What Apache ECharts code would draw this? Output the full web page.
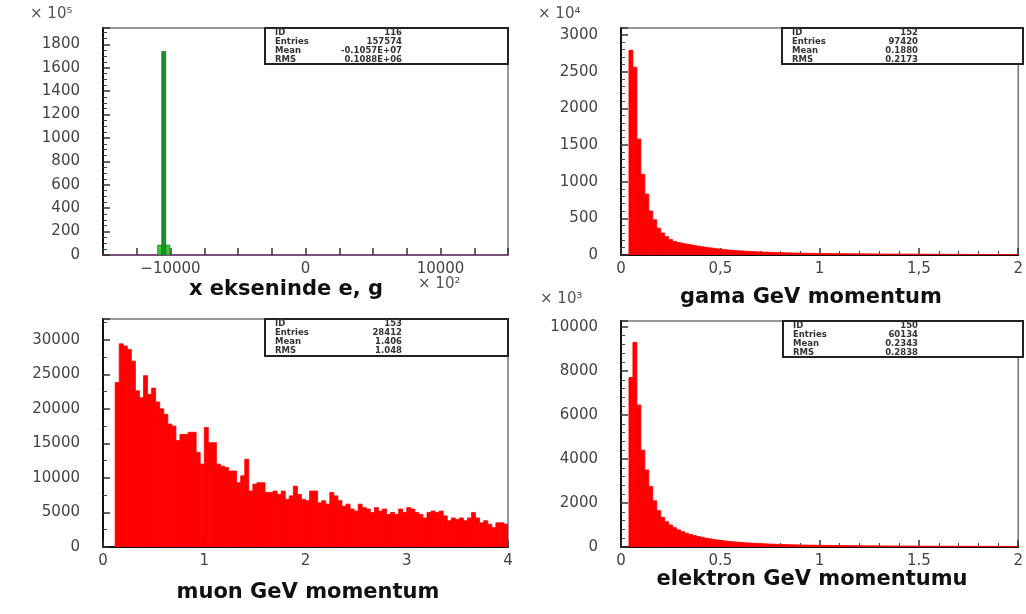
<!DOCTYPE html>
<html>
<head>
<meta charset="utf-8">
<script src="https://cdn.jsdelivr.net/npm/echarts@6/dist/echarts.min.js"></script>
<style>
  html, body { margin: 0; padding: 0; background: #fff; }
  #chart { width: 1026px; height: 614px; }
</style>
</head>
<body>
<div id="chart"></div>
<script>
// x ekseninde e, g  (x 10^2 on x, x 10^5 on y)
const xStart = -10950
const xBin = 300
const xCounts = [85, 1740, 85]
const xColors = ['#33cc33', '#1f8f2a', '#33cc33']

// gama GeV momentum (x 10^4)
const gamaStart = 0.04
const gamaBin = 0.02
const gamaCounts = [
  2790, 2560, 1580, 1100, 830, 600, 480, 365, 300, 250,
  210, 185, 170, 160, 150, 140, 130, 120, 112, 104,
  97, 90, 83, 77, 72, 67, 62, 58, 55, 52,
  48, 46, 43, 41, 39, 37, 35, 33, 31, 30,
  29, 27, 26, 25, 24, 23, 22, 21,
  21, 20, 20, 19, 19, 18, 18, 17, 17, 16,
  16, 16, 15, 15, 14, 14, 14, 13, 13, 13,
  12, 12, 12, 12, 11, 11, 11, 11, 10, 10,
  10, 10, 9, 9, 9, 9, 9, 8, 8, 8,
  8, 8, 7, 7, 7, 7, 7, 7, 6, 6
]

// muon GeV momentum
const muonStart = 0.12
const muonBin = 0.04
const muonCounts = [
  23800, 29400, 29100, 28600, 26900, 22600, 21600, 24800, 22100, 23000,
  21000, 20000, 19200, 17800, 17500, 15400, 16300, 16300, 16600, 16600,
  13700, 12000, 17300, 15100, 15100, 12000, 11700, 11500, 11000, 11000,
  9300, 10300, 12700, 8100, 9100, 9300, 9300, 7900, 7900, 8100,
  7600, 8100, 6900, 7400, 8800, 7600, 6900, 6700, 8100, 8100,
  6400, 6700, 6200, 7900, 7400, 6700, 5900, 6200, 5500, 5200,
  6200, 5700, 5500, 5000, 5700, 5200, 5500, 4700, 5000, 4700,
  5500, 5000, 5700, 5500, 5000, 4700, 4200, 5000, 5200, 5000,
  5200, 4500, 3800, 4200, 4000, 4200, 3800, 4200, 5000, 4200,
  3500, 3800, 3300, 2800, 3500, 3500, 3300
]

// elektron GeV momentumu (x 10^3)
const elekStart = 0.04
const elekBin = 0.02
const elekCounts = [
  7700, 9300, 6450, 4400, 3500, 2750, 2100, 1650, 1350, 1150,
  1000, 880, 780, 700, 630, 570, 520, 475, 440, 400,
  370, 340, 315, 290, 270, 250, 235, 220, 205, 190,
  180, 170, 160, 150, 142, 135, 128, 122, 116, 110,
  105, 100, 96, 92, 88, 85, 82, 79,
  76, 74, 72, 70, 68, 66, 64, 62, 60, 59,
  57, 56, 54, 53, 52, 50, 49, 48, 47, 46,
  45, 44, 43, 42, 41, 40, 39, 38, 38, 37,
  36, 35, 35, 34, 33, 33, 32, 31, 31, 30,
  30, 29, 29, 28, 28, 27, 27, 26, 26, 25
]

const statNames = ['ID', 'Entries', 'Mean', 'RMS']
const stats1 = ['116', '157574', '-0.1057E+07', '0.1088E+06']
const stats2 = ['152', '97420', '0.1880', '0.2173']
const stats3 = ['153', '28412', '1.406', '1.048']
const stats4 = ['150', '60134', '0.2343', '0.2838']

const titles = ['x ekseninde e, g', 'gama GeV momentum', 'muon GeV momentum', 'elektron GeV momentumu']

const FONT = 'DejaVu Sans'
const RED = '#ff0000'

function bins(start, width, counts, colors) {
  return counts.map(function(c, i) {
    const item = { value: [start + i * width, start + (i + 1) * width, c] }
    if (colors) item.itemStyle = { color: colors[i] }
    return item
  })
}

function renderHist(params, api) {
  const top = api.coord([api.value(0), api.value(2)])
  const bottom = api.coord([api.value(1), 0])
  const color = api.visual('color')
  return {
    type: 'rect',
    shape: { x: top[0], y: top[1], width: bottom[0] - top[0], height: bottom[1] - top[1] },
    style: { fill: color, stroke: color === RED ? RED : '#0d5c14', lineWidth: color === RED ? 0.8 : 0.6 }
  }
}

function axisCommon(minorSplit) {
  return {
    axisLine: { show: true, onZero: false, lineStyle: { color: '#111', width: 2 } },
    axisTick: { show: true, inside: true, length: 7, lineStyle: { color: '#333', width: 1.5 } },
    minorTick: { show: minorSplit > 1, splitNumber: minorSplit, length: 4, lineStyle: { color: '#444', width: 1 } },
    splitLine: { show: false },
    minorSplitLine: { show: false }
  }
}

function xAxis(grid, min, max, interval, minorSplit, fmt) {
  return Object.assign(axisCommon(minorSplit), {
    type: 'value', gridIndex: grid, min: min, max: max, interval: interval,
    axisLabel: { margin: 7, fontFamily: FONT, fontSize: 15, color: '#444', formatter: fmt }
  })
}

function yAxis(grid, max, interval, minorSplit) {
  return Object.assign(axisCommon(minorSplit), {
    type: 'value', gridIndex: grid, min: 0, max: max, interval: interval,
    axisLabel: {
      margin: 23, fontFamily: FONT, fontSize: 15, color: '#444',
      formatter: function(v) { return v % interval === 0 ? String(v) : '' }
    }
  })
}

function statBox(x, y, w, h, valueX, values) {
  const children = [{
    type: 'rect',
    shape: { x: x, y: y, width: w, height: h },
    style: { fill: '#fff', stroke: '#222', lineWidth: 2 }
  }]
  statNames.forEach(function(n, i) {
    const ty = y + 4.5 + i * 9
    children.push({ type: 'text', x: x + 10, y: ty, style: { text: n, font: 'bold 8.5px ' + FONT, fill: '#333', verticalAlign: 'middle' } })
    children.push({ type: 'text', x: valueX, y: ty, style: { text: values[i], font: 'bold 8.5px ' + FONT, fill: '#333', align: 'right', verticalAlign: 'middle' } })
  })
  return { type: 'group', children: children }
}

function label(text, x, y, size, align, weight, color) {
  return {
    type: 'text', x: x, y: y,
    style: { text: text, font: (weight || 'normal') + ' ' + size + 'px ' + FONT, fill: color || '#111', align: align, verticalAlign: 'middle' }
  }
}

const chart = echarts.init(document.getElementById('chart'))

chart.setOption({
  backgroundColor: '#fff',
  animation: false,
  grid: [
    { left: 103, top: 28, width: 405, height: 227 },
    { left: 621, top: 28, width: 402, height: 227 },
    { left: 103, top: 319, width: 405, height: 228 },
    { left: 621, top: 321, width: 402, height: 226 }
  ].map(function(g) {
    return Object.assign({ show: true, borderColor: '#777', borderWidth: 1.5, backgroundColor: '#fff' }, g)
  }),
  xAxis: [
    Object.assign(xAxis(0, -15000, 15000, 2500, 0, function(v) {
      if (v % 10000 !== 0) return ''
      return v < 0 ? '\u2212' + Math.abs(v) : String(v)
    }), { axisLine: { show: true, onZero: false, lineStyle: { color: '#7d4f7d', width: 2 } } }),
    xAxis(1, 0, 2, 0.5, 5, function(v) { return String(v).replace('.', ',') }),
    xAxis(2, 0, 4, 1, 5, function(v) { return String(v) }),
    xAxis(3, 0, 2, 0.5, 5, function(v) { return String(v) })
  ],
  yAxis: [
    yAxis(0, 1940, 200, 4),
    yAxis(1, 3095, 500, 5),
    yAxis(2, 33000, 5000, 2),
    yAxis(3, 10270, 2000, 5)
  ],
  series: [
    { type: 'custom', xAxisIndex: 0, yAxisIndex: 0, renderItem: renderHist, clip: true,
      encode: { x: [0, 1], y: 2 }, data: bins(xStart, xBin, xCounts, xColors) },
    { type: 'custom', xAxisIndex: 1, yAxisIndex: 1, renderItem: renderHist, clip: true,
      itemStyle: { color: RED }, encode: { x: [0, 1], y: 2 }, data: bins(gamaStart, gamaBin, gamaCounts) },
    { type: 'custom', xAxisIndex: 2, yAxisIndex: 2, renderItem: renderHist, clip: true,
      itemStyle: { color: RED }, encode: { x: [0, 1], y: 2 }, data: bins(muonStart, muonBin, muonCounts) },
    { type: 'custom', xAxisIndex: 3, yAxisIndex: 3, renderItem: renderHist, clip: true,
      itemStyle: { color: RED }, encode: { x: [0, 1], y: 2 }, data: bins(elekStart, elekBin, elekCounts) }
  ],
  graphic: [
    statBox(265, 28, 243, 36, 402, stats1),
    statBox(782, 28, 241, 36, 918, stats2),
    statBox(265, 319, 243, 37, 402, stats3),
    statBox(783, 321, 240, 36, 918, stats4),
    label('\u00d7 10\u2075', 30, 14, 15, 'left', 'normal', '#555'),
    label('\u00d7 10\u2074', 538, 14, 15, 'left', 'normal', '#555'),
    label('\u00d7 10\u00b3', 540, 299, 15, 'left', 'normal', '#555'),
    label('\u00d7 10\u00b2', 418, 284, 15, 'left', 'normal', '#555'),
    label(titles[0], 286, 290, 21, 'center', 'bold'),
    label(titles[1], 811, 298, 21, 'center', 'bold'),
    label(titles[2], 308, 593, 21, 'center', 'bold'),
    label(titles[3], 812, 580, 21, 'center', 'bold')
  ]
})
</script>
</body>
</html>
